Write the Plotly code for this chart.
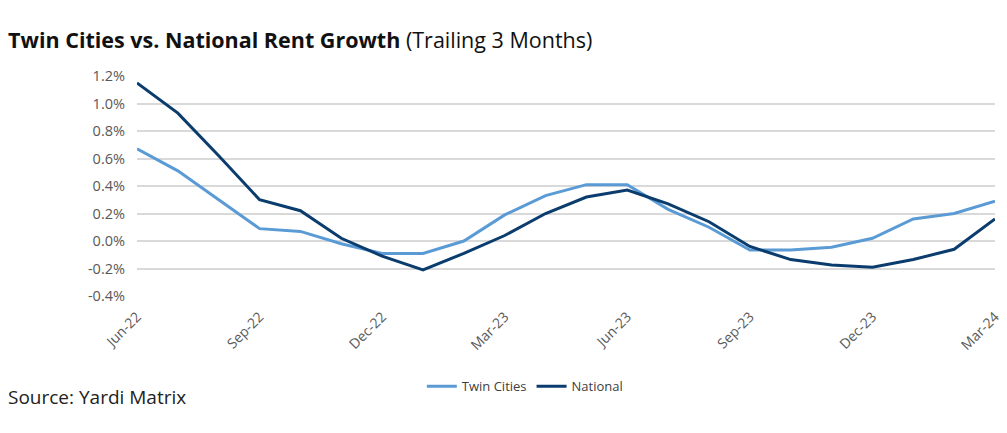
import plotly.graph_objects as go

months = ["Jun-22", "Jul-22", "Aug-22", "Sep-22", "Oct-22", "Nov-22", "Dec-22",
          "Jan-23", "Feb-23", "Mar-23", "Apr-23", "May-23", "Jun-23", "Jul-23",
          "Aug-23", "Sep-23", "Oct-23", "Nov-23", "Dec-23", "Jan-24", "Feb-24", "Mar-24"]
twin_cities = [0.67, 0.51, 0.30, 0.09, 0.07, -0.02, -0.09, -0.09, 0.00, 0.19, 0.33, 0.41,
               0.41, 0.23, 0.10, -0.065, -0.065, -0.045, 0.02, 0.16, 0.20, 0.29]
national = [1.15, 0.93, 0.62, 0.30, 0.22, 0.02, -0.11, -0.21, -0.09, 0.04, 0.20, 0.32,
            0.37, 0.27, 0.14, -0.04, -0.135, -0.175, -0.19, -0.135, -0.06, 0.16]
tick_labels = ["Jun-22", "Sep-22", "Dec-22", "Mar-23", "Jun-23", "Sep-23", "Dec-23", "Mar-24"]
y_ticks = [-0.4, -0.2, 0.0, 0.2, 0.4, 0.6, 0.8, 1.0, 1.2]

fig = go.Figure()
fig.add_trace(go.Scatter(x=months, y=twin_cities, name="Twin Cities", mode="lines",
                         line=dict(color="#5B9BD5", width=3)))
fig.add_trace(go.Scatter(x=months, y=national, name="National", mode="lines",
                         line=dict(color="#0B3C6E", width=3)))

font_family = "'Open Sans', Lato, sans-serif"
fig.update_layout(
    width=1007, height=433,
    margin=dict(l=137, r=4, t=76, b=137),
    plot_bgcolor="white", paper_bgcolor="white",
    font=dict(family=font_family, color="#595959"),
    showlegend=True,
    legend=dict(orientation="h", x=0.452, xanchor="center", y=-0.41, yanchor="middle",
                font=dict(size=13, color="#404040"), itemwidth=30),
    xaxis=dict(type="category", range=[0, len(months) - 1], tickmode="array",
               tickvals=tick_labels, ticktext=tick_labels, tickangle=-45,
               showgrid=False, showline=False, zeroline=False,
               tickfont=dict(size=14, color="#595959"), ticklabelstandoff=9),
    yaxis=dict(range=[-0.4, 1.2], tickvals=y_ticks,
               ticktext=[f"{v:.1f}%" for v in y_ticks],
               showgrid=True, gridcolor="#D9D9D9", gridwidth=1.5, zeroline=False,
               tickfont=dict(size=14.5, color="#595959"), ticklabelstandoff=11),
    title=dict(text="<b>Twin Cities vs. National Rent Growth</b> (Trailing 3 Months)",
               x=0.008, xanchor="left", xref="container",
               y=1 - 40 / 433, yanchor="middle", yref="container",
               font=dict(size=21.5, color="#111111", family=font_family)),
)
fig.add_annotation(text="Source: Yardi Matrix", xref="paper", yref="paper",
                   x=-0.1525, y=-0.459, xanchor="left", yanchor="middle",
                   showarrow=False, font=dict(size=19, color="#222222", family=font_family))

fig.write_html("out.html")
